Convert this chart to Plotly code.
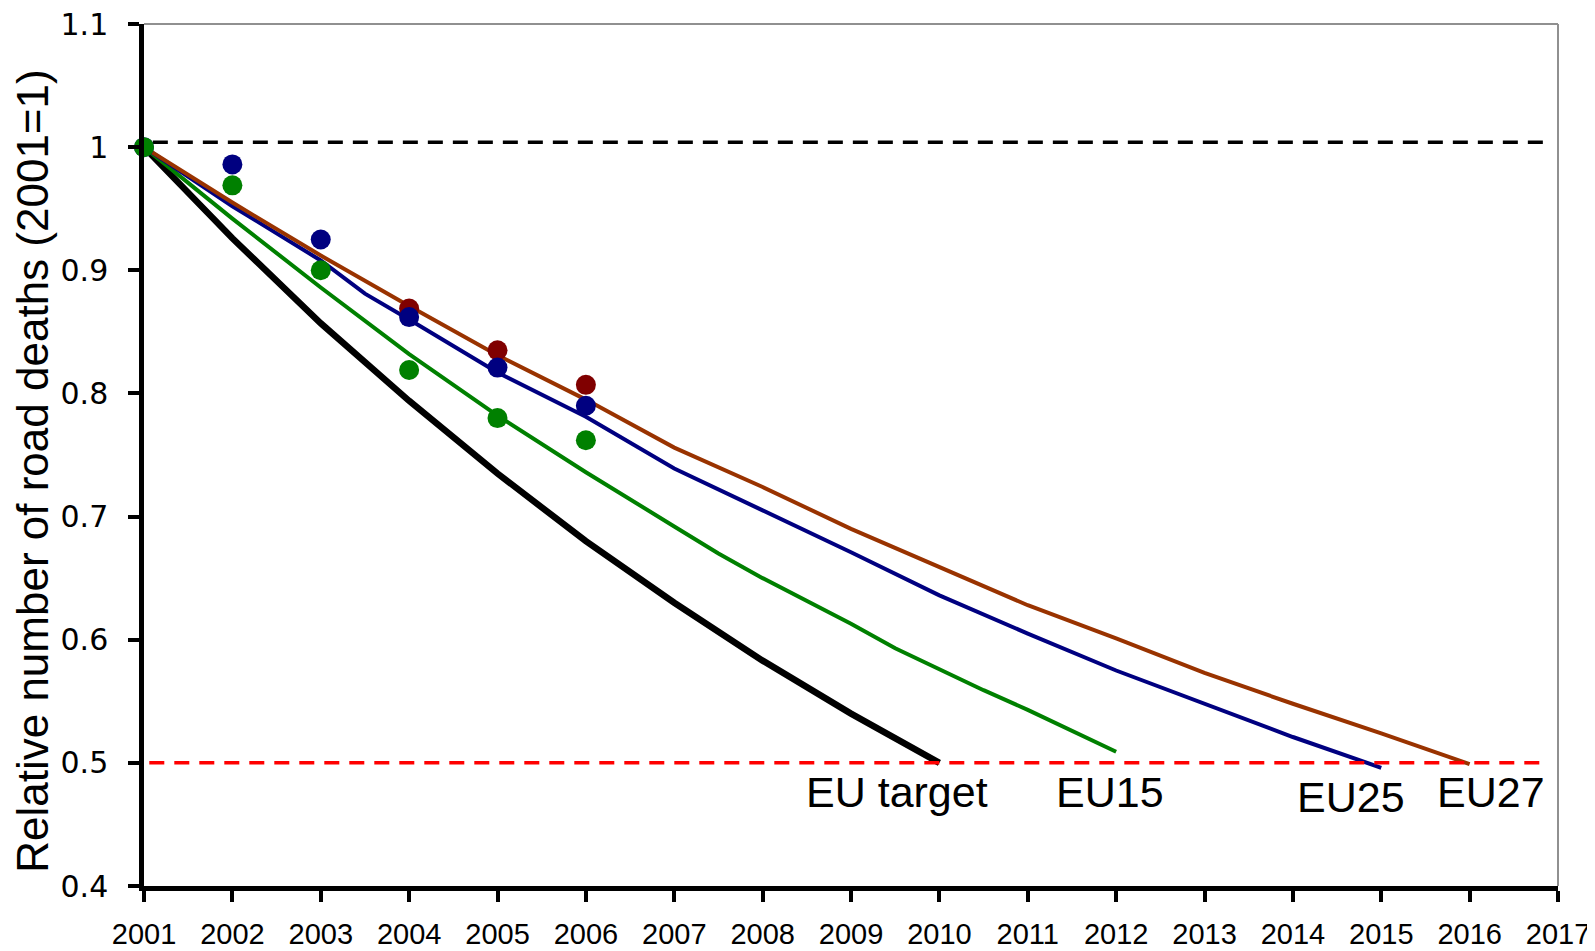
import plotly.graph_objects as go

# ---- data ----
years_target = [2001, 2002, 2003, 2004, 2005, 2006, 2007, 2008, 2009, 2010]
eu_target = [1.0, 0.926, 0.857, 0.794, 0.735, 0.680, 0.630, 0.583, 0.540, 0.500]

years_eu15 = [2001, 2002, 2003, 2003.5, 2004, 2005, 2006, 2007, 2007.5, 2008, 2009, 2009.5, 2010, 2010.5, 2011, 2012]
eu15_trend = [1.0, 0.942, 0.886, 0.859, 0.832, 0.782, 0.736, 0.692, 0.670, 0.650, 0.613, 0.593, 0.576, 0.559, 0.543, 0.509]

years_eu25 = [2001, 2002, 2003, 2003.5, 2004, 2005, 2006, 2007, 2008, 2009, 2010, 2011, 2012, 2013, 2014, 2015]
eu25_trend = [1.0, 0.952, 0.908, 0.881, 0.860, 0.817, 0.781, 0.739, 0.705, 0.671, 0.636, 0.605, 0.575, 0.548, 0.521, 0.496]

years_eu27 = [2001, 2002, 2003, 2004, 2005, 2006, 2007, 2008, 2009, 2010, 2011, 2012, 2013, 2014, 2015, 2016]
eu27_trend = [1.0, 0.955, 0.912, 0.871, 0.831, 0.795, 0.756, 0.724, 0.690, 0.659, 0.628, 0.601, 0.573, 0.548, 0.524, 0.499]

obs_years = [2001, 2002, 2003, 2004, 2005, 2006]
eu25_obs = [1.0, 0.986, 0.925, 0.862, 0.821, 0.790]
eu15_obs = [1.0, 0.969, 0.900, 0.819, 0.780, 0.762]
obs_years_eu27 = [2004, 2005, 2006]
eu27_obs = [0.869, 0.835, 0.807]

ref_x = [2001.1, 2016.9]
baseline_level = [1.004, 1.004]
target_x = [2001.06, 2016.9]
target_level = [0.5, 0.5]

labels = ["EU target", "EU15", "EU25", "EU27"]
label_x = [2009.52, 2011.93, 2014.66, 2016.24]
label_y = [0.476, 0.476, 0.4725, 0.476]

x_ticks = list(range(2001, 2018))
y_ticks = [0.4, 0.5, 0.6, 0.7, 0.8, 0.9, 1.0, 1.1]
y_ticktext = ["0.4", "0.5", "0.6", "0.7", "0.8", "0.9", "1", "1.1"]

# ---- figure ----
fig = go.Figure()

fig.add_trace(go.Scatter(x=ref_x, y=baseline_level, mode="lines",
                         line=dict(color="black", width=3.5, dash="15px,10px")))

fig.add_trace(go.Scatter(x=years_target, y=eu_target, mode="lines",
                         line=dict(color="black", width=6.5)))
fig.add_trace(go.Scatter(x=years_eu15, y=eu15_trend, mode="lines",
                         line=dict(color="#008000", width=4)))
fig.add_trace(go.Scatter(x=years_eu25, y=eu25_trend, mode="lines",
                         line=dict(color="#000080", width=4)))
fig.add_trace(go.Scatter(x=years_eu27, y=eu27_trend, mode="lines",
                         line=dict(color="#993300", width=4)))

fig.add_trace(go.Scatter(x=target_x, y=target_level, mode="lines",
                         line=dict(color="#FF0000", width=3.5, dash="15px,10px")))

fig.add_trace(go.Scatter(x=obs_years_eu27, y=eu27_obs, mode="markers", cliponaxis=False,
                         marker=dict(color="#800000", size=20)))
fig.add_trace(go.Scatter(x=obs_years, y=eu25_obs, mode="markers", cliponaxis=False,
                         marker=dict(color="#000080", size=20)))
fig.add_trace(go.Scatter(x=obs_years, y=eu15_obs, mode="markers", cliponaxis=False,
                         marker=dict(color="#008000", size=20)))

for t, lx, ly in zip(labels, label_x, label_y):
    fig.add_annotation(x=lx, y=ly, text=t, showarrow=False, xanchor="center", yanchor="middle",
                       font=dict(family="Liberation Sans, Arial", size=43, color="black"))

fig.add_annotation(xref="paper", yref="paper", x=-0.079, y=0.482,
                   text="Relative number of road deaths (2001=1)", textangle=-90,
                   showarrow=False, xanchor="center", yanchor="middle",
                   font=dict(family="Liberation Sans, Arial", size=44, color="black"))

# top/right frame (gray)
fig.add_shape(type="line", xref="paper", yref="paper", x0=0, x1=1, y0=1, y1=1,
              line=dict(color="#909090", width=2))
fig.add_shape(type="line", xref="paper", yref="paper", x0=1, x1=1, y0=0, y1=1,
              line=dict(color="#909090", width=2))

fig.update_layout(
    width=1595, height=951,
    margin=dict(l=136, r=45, t=16, b=73, autoexpand=False),
    paper_bgcolor="white", plot_bgcolor="white",
    showlegend=False,
    xaxis=dict(range=[2001, 2017], tickmode="array", tickvals=x_ticks,
               ticktext=[str(v) for v in x_ticks], automargin=False,
               showgrid=False, zeroline=False,
               showline=True, linecolor="black", linewidth=4.5,
               ticks="outside", ticklen=11, tickwidth=3.5, tickcolor="black",
               ticklabelstandoff=7, ticklabeloverflow="allow",
               tickfont=dict(family="Liberation Sans, Arial", size=29, color="black")),
    yaxis=dict(range=[0.4, 1.1], tickmode="array", tickvals=y_ticks, ticktext=y_ticktext,
               automargin=False,
               showgrid=False, zeroline=False,
               showline=True, linecolor="black", linewidth=4.5,
               ticks="outside", ticklen=11, tickwidth=3.5, tickcolor="black",
               ticklabelstandoff=14, ticklabeloverflow="allow",
               tickfont=dict(family="DejaVu Sans", size=30, color="black")),
)

fig.write_html("out.html")
